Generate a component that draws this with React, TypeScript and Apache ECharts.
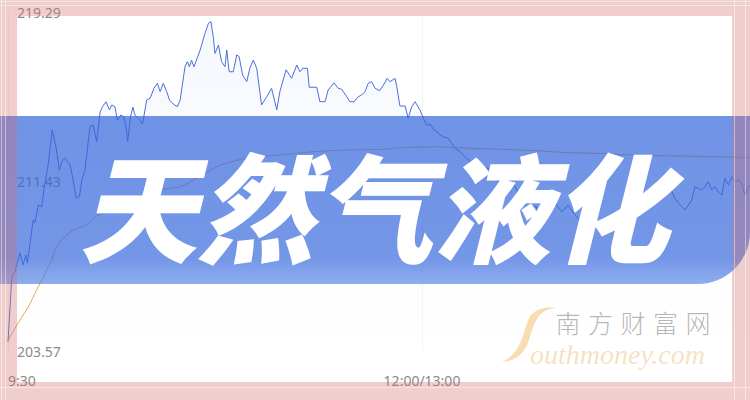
import React, { useEffect, useRef } from 'react';
import * as echarts from 'echarts';

// ---- data ----
const timeLabels = ['9:30', '12:00/13:00'];
const priceTicks = [203.57, 211.43, 219.29];

const priceMinutes = [
  0, 1.1, 2, 3.5, 4.3, 5.2, 5.6, 7.3, 7.8, 8.8, 9.8, 10.4, 11.7, 12.8, 13.9, 14.9, 15.6, 16.5, 18, 18.9,
  19.7, 20.7, 21.4, 22.3, 23.3, 23.8, 24.7, 25.7, 26.7, 27.4, 28.4, 29.4, 30.1, 31, 31.7, 32.7, 33.6, 34.2,
  34.7, 35.5, 36.2, 36.8, 37.8, 39, 40.2, 41.2, 42.3, 43.3, 44.1, 45, 46, 46.8, 47.9, 49.1, 49.9, 51.3, 52,
  52.6, 53.2, 53.9, 55.7, 57.1, 58.1, 58.8, 59.5, 60, 61, 61.9, 62.9, 63.4, 64.1, 65.3, 66.3, 67, 68, 69.2,
  70.1, 71.1, 72.1, 73.5, 75, 76.4, 77.9, 78.8, 80.6, 82.2, 83.7, 84.6, 85.4, 86.8, 87.3, 89.5, 90.4, 91.9,
  92.8, 94.5, 95.7, 96.7, 98.2, 99.1, 100.3, 101.5, 102.5, 103.5, 104.4, 105.4, 106.4, 107.7, 108.8, 109.9,
  110.7, 112.2, 112.7, 113.6, 115.1, 116, 117, 118, 119.4, 120.4, 121.4, 122.3, 123.3, 124.3, 125.2, 126.2,
  127.6, 128.6, 129.6, 131, 132.5, 134.5, 136.8, 139.1, 141.4, 143.8, 146.1, 148.4, 150.7, 152.2, 153.2,
  153.7, 154.7, 155.7, 156.6, 157.6, 158.6, 160.6, 162.3, 164.3, 166.4, 168.7, 171, 173.3, 175.7, 178, 180.3,
  180.8, 181.7, 182.7, 183.2, 184.2, 185.1, 186.1, 187.5, 188.5, 189.5, 190.4, 191.4, 192.4, 193.3, 194.3,
  195.3, 196.2, 197.2, 198.2, 199.1, 200.1, 201.1, 202, 203, 204, 204.9, 205.9, 206.9, 207.8, 208.8, 209.8,
  210.7, 211.7, 212.7, 213.6, 214.6, 215.7,
];
const priceValues = [
  203.99, 207.02, 207.25, 208.13, 207.56, 208.02, 207.65, 209.65, 209.51, 210.34, 210.26, 211.04, 212.29,
  213.82, 213.04, 211.96, 212.35, 212.52, 212.2, 211.5, 210.67, 210.73, 211.5, 211.96, 213.34, 213.97, 214.05,
  213.28, 214.65, 214.9, 215.13, 214.75, 214.98, 214.9, 214.28, 214.51, 214.43, 213.97, 213.28, 214.42,
  214.88, 214.51, 214.36, 214.1, 215.21, 215.29, 215.75, 215.98, 215.6, 215.98, 215.6, 215.21, 215.02,
  214.9, 215.21, 216.75, 216.99, 216.75, 217.06, 216.75, 217.53, 218.3, 218.77, 218.84, 218.15, 217.37,
  217.76, 216.99, 216.75, 217.53, 216.52, 216.52, 217.3, 217.22, 216.37, 216.06, 216.69, 217.06, 216.68,
  214.98, 215.36, 215.75, 214.75, 215.6, 216.61, 216.22, 216.83, 216.52, 216.68, 216.68, 215.8, 215.8,
  215.13, 215.13, 215.67, 216.01, 215.75, 215.71, 215.36, 215.13, 215.13, 215.36, 215.44, 215.6, 215.98,
  216.06, 215.75, 215.64, 215.9, 216.21, 216.06, 216.21, 215.83, 214.93, 214.93, 214.36, 214.9, 215.13,
  214.75, 214.37, 214.03, 214.1, 213.86, 213.74, 213.59, 213.51, 213.43, 213.2, 212.97, 212.81, 212.58,
  212.29, 211.96, 212.06, 211.5, 211.27, 211.41, 210.8, 210.57, 210.25, 210.26, 209.55, 210.11, 210.42,
  209.8, 210.19, 210.42, 210.02, 210.34, 209.88, 209.55, 209.74, 209.37, 209.18, 209.37, 209.09, 209.57,
  209.8, 210.11, 210.34, 210.19, 210.49, 210.65, 210.8, 211.11, 211.35, 211.42, 211.19, 211.27, 210.96,
  210.65, 210.42, 210.26, 210.11, 210.34, 210.57, 211.19, 211.11, 211.04, 211.19, 211.42, 211.04, 211.19,
  210.96, 210.8, 211.58, 211.27, 211.65, 211.42, 211.5, 211.35, 210.8, 211.19, 211.27,
];

const avgMinutes = [
  0, 0.6, 3.5, 5.9, 8.3, 9.8, 11.2, 12.7, 13.6, 15.1, 17, 18.9, 21.4, 23.3, 25.2, 27.6, 29.6, 31.5, 35.4,
  41.2, 45.5, 49.9, 54.7, 59.5, 64.3, 69.2, 78.8, 88.5, 98.2, 107.8, 114.6, 124.3, 133.9, 143.6, 153.2,
  161.9, 171.6, 181.3, 200.6, 215.7,
];
const avgValues = [
  203.99, 204.23, 205.01, 205.62, 206.4, 206.86, 207.33, 207.79, 208.25, 208.64, 208.95, 209.18, 209.33,
  209.49, 209.8, 209.95, 210.11, 210.34, 210.57, 210.9, 211.08, 211.19, 211.58, 212.04, 212.33, 212.5,
  212.66, 212.81, 212.89, 212.92, 213.0, 213.04, 212.97, 212.92, 212.86, 212.77, 212.73, 212.66, 212.59,
  212.54,
];

const bannerTitle = '天然气液化';
const brandCn = '南方财富网';
const brandEn = 'outhmoney.com';

// swoosh "S" of the watermark logo
echarts.graphic.registerShape(
  'swoosh',
  echarts.graphic.extendPath(
    'M60 2 C42 0 32 6 28 18 C24 30 20 44 12 52 C8 56 4 58 0 60 C10 60 22 55 28 42 C32 32 34 20 40 12 C46 5 52 3 60 2 Z',
    {}
  )
);

export default function App() {
  const ref = useRef<HTMLDivElement>(null);

  useEffect(() => {
    if (!ref.current) return;
    const chart = echarts.init(ref.current, null, { renderer: 'svg' });

    const priceData = priceMinutes.map((m, i) => [m, priceValues[i]]);
    const avgData = avgMinutes.map((m, i) => [m, avgValues[i]]);

    const frameFill = 'rgba(210,110,110,0.34)';
    const frameLine = 'rgba(255,255,255,0.45)';

    const brandChars = brandCn.split('').map((ch, i) => ({
      type: 'text',
      z: 20,
      x: 568 + i * 32.5,
      y: 322,
      style: {
        text: ch,
        fill: 'rgba(120,120,120,0.55)',
        fontSize: 25,
        fontFamily: '"Noto Sans CJK SC", sans-serif',
        fontWeight: 300,
        align: 'center',
        verticalAlign: 'middle',
      },
    }));

    chart.setOption({
      animation: false,
      // the full trading day (240 min) runs past the right edge of the picture
      grid: { left: 8, top: 12, width: 828, height: 339, outerBoundsMode: 'none', containLabel: false },
      xAxis: {
        type: 'value',
        min: 0,
        max: 240,
        interval: 120,
        axisLine: { show: false },
        axisTick: { show: false },
        splitLine: { show: true, lineStyle: { color: '#f4f4f4', width: 1 } },
        axisLabel: {
          formatter: (v: number) => (v % 120 === 0 ? timeLabels[v / 120] ?? '' : ''),
          margin: 22,
          color: '#8a8a8a',
          fontSize: 14,
          fontFamily: '"Noto Sans", sans-serif',
          alignMinLabel: 'left',
        },
      },
      yAxis: {
        type: 'value',
        min: priceTicks[0],
        max: priceTicks[2],
        axisLine: { show: false },
        axisTick: { show: false },
        splitLine: { show: false },
        axisLabel: {
          inside: true,
          margin: 9,
          color: '#8a8a8a',
          fontSize: 14,
          fontFamily: '"Noto Sans", sans-serif',
          customValues: priceTicks,
          formatter: (v: number) => v.toFixed(2),
        },
      },
      series: [
        {
          type: 'line',
          data: priceData,
          showSymbol: false,
          lineStyle: { color: '#4a6fdc', width: 1 },
          areaStyle: {
            color: {
              type: 'linear', x: 0, y: 0, x2: 0, y2: 1,
              colorStops: [
                { offset: 0, color: 'rgba(80,130,230,0.08)' },
                { offset: 1, color: 'rgba(80,130,230,0)' },
              ],
            },
          },
          z: 2,
        },
        {
          type: 'line',
          data: avgData,
          showSymbol: false,
          smooth: 0.3,
          lineStyle: { color: '#e8a94f', width: 1 },
          z: 3,
        },
      ],
      graphic: [
        // banner
        {
          type: 'rect',
          z: 10,
          shape: { x: 0, y: 116, width: 750, height: 168, r: [0, 0, 52, 0] },
          style: {
            fill: {
              type: 'linear', x: 0, y: 0, x2: 0, y2: 1,
              colorStops: [
                { offset: 0, color: 'rgba(51,101,219,0.7)' },
                { offset: 0.85, color: 'rgba(54,104,220,0.69)' },
                { offset: 1, color: 'rgba(75,125,228,0.62)' },
              ],
            },
          },
        },
        {
          type: 'text',
          z: 11,
          x: 374,
          y: 202,
          style: {
            text: bannerTitle,
            fill: '#ffffff',
            fontSize: 118,
            fontWeight: 900,
            fontStyle: 'italic',
            fontFamily: '"Noto Sans CJK SC", sans-serif',
            align: 'center',
            verticalAlign: 'middle',
          },
        },
        // watermark
        {
          type: 'swoosh',
          z: 20,
          x: 502,
          y: 306,
          scaleX: 0.9,
          scaleY: 0.93,
          style: { fill: 'rgba(243,192,115,0.55)' },
        },
        ...brandChars,
        {
          type: 'text',
          z: 20,
          x: 530,
          y: 354,
          style: {
            text: brandEn,
            fill: 'rgba(240,205,150,0.6)',
            fontSize: 28,
            fontStyle: 'italic',
            fontFamily: '"Liberation Serif", serif',
            align: 'left',
            verticalAlign: 'middle',
          },
        },
        // pink frame on top
        { type: 'rect', z: 30, shape: { x: 0, y: 0, width: 750, height: 16 }, style: { fill: frameFill } },
        { type: 'rect', z: 30, shape: { x: 0, y: 382, width: 750, height: 18 }, style: { fill: frameFill } },
        { type: 'rect', z: 30, shape: { x: 0, y: 16, width: 17, height: 366 }, style: { fill: frameFill } },
        { type: 'rect', z: 30, shape: { x: 732, y: 16, width: 18, height: 366 }, style: { fill: frameFill } },
        { type: 'line', z: 31, shape: { x1: 0, y1: 1.5, x2: 750, y2: 1.5 }, style: { stroke: frameLine, lineWidth: 1 } },
        { type: 'line', z: 31, shape: { x1: 0, y1: 5.5, x2: 750, y2: 5.5 }, style: { stroke: frameLine, lineWidth: 1 } },
        { type: 'line', z: 31, shape: { x1: 1.5, y1: 0, x2: 1.5, y2: 400 }, style: { stroke: frameLine, lineWidth: 1 } },
        { type: 'line', z: 31, shape: { x1: 5.5, y1: 0, x2: 5.5, y2: 400 }, style: { stroke: frameLine, lineWidth: 1 } },
        { type: 'line', z: 31, shape: { x1: 0, y1: 387.5, x2: 750, y2: 387.5 }, style: { stroke: frameLine, lineWidth: 1 } },
        { type: 'line', z: 31, shape: { x1: 734.5, y1: 0, x2: 734.5, y2: 400 }, style: { stroke: frameLine, lineWidth: 1 } },
        { type: 'line', z: 31, shape: { x1: 745.5, y1: 0, x2: 745.5, y2: 400 }, style: { stroke: frameLine, lineWidth: 1 } },
      ],
    });

    return () => chart.dispose();
  }, []);

  return (
    <div
      ref={ref}
      style={{ position: 'absolute', left: 0, top: 0, width: 750, height: 400 }}
    />
  );
}
